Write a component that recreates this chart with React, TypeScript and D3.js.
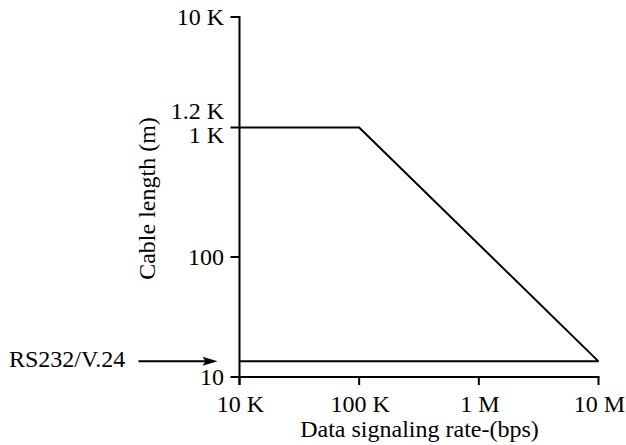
import React from "react";
import * as d3 from "d3";

const xTicks = [1e4, 1e5, 1e6, 1e7];
const xTickLabels = ["10 K", "100 K", "1 M", "10 M"];
const yTicks = [10, 100, 1200, 10000];
const yTickLabels = ["10", "100", "1.2 K", "10 K"];
const rateBps = [1e4, 1e5, 1e7];
const lengthM = [1200, 1200, 13.5];
const rs232Rate = [1e4, 1e7];
const rs232Length = [13.5, 13.5];
const rs232Label = "RS232/V.24";

const W = 626;
const H = 445;
const FONT = "'Liberation Serif', 'Times New Roman', serif";
const FS = 24;

export default function App() {
  const x = d3.scaleLog().domain([1e4, 1e7]).range([239.5, 598.5]);
  const y = d3.scaleLog().domain([10, 10000]).range([377, 17]);
  const line = d3
    .line<number>()
    .x((_, i) => x(rateBps[i]))
    .y((d) => y(d));
  const rsLine = d3
    .line<number>()
    .x((_, i) => x(rs232Rate[i]))
    .y((d) => y(d));

  const x0 = x(1e4);
  const yBase = y(10);
  const yTop = y(10000);
  const rsY = y(rs232Length[0]);

  return (
    <svg
      width={W}
      height={H}
      style={{ position: "absolute", left: 0, top: 0, background: "#fff" }}
      fontFamily={FONT}
    >
      {/* axes */}
      <line x1={x0} x2={x0} y1={yTop - 1} y2={yBase + 8} stroke="#000" strokeWidth={2} />
      <line x1={x0 - 1} x2={x(1e7) + 1} y1={yBase} y2={yBase} stroke="#000" strokeWidth={2} />
      {yTicks.map((t, i) => (
        <g key={"y" + i}>
          <line x1={x0 - 9} x2={x0} y1={y(t)} y2={y(t)} stroke="#000" strokeWidth={2} />
          {t === 1200 ? (
            <>
              <text x={x0 - 15.5} y={y(t) - 8} textAnchor="end" fontSize={FS}>
                {yTickLabels[i]}
              </text>
              <text x={x0 - 15.5} y={y(t) + 16} textAnchor="end" fontSize={FS}>
                1 K
              </text>
            </>
          ) : (
            <text x={x0 - 15.5} y={y(t) + 8} textAnchor="end" fontSize={FS}>
              {yTickLabels[i]}
            </text>
          )}
        </g>
      ))}
      {xTicks.map((t, i) => (
        <g key={"x" + i}>
          <line x1={x(t)} x2={x(t)} y1={yBase} y2={yBase + 8} stroke="#000" strokeWidth={2} />
          <text x={x(t) + 1} y={yBase + 35} textAnchor="middle" fontSize={FS}>
            {xTickLabels[i]}
          </text>
        </g>
      ))}
      {/* data */}
      <path d={line(lengthM) || ""} fill="none" stroke="#000" strokeWidth={2} />
      <path d={rsLine(rs232Length) || ""} fill="none" stroke="#000" strokeWidth={2} />
      {/* annotation */}
      <line x1={x0 - 101} x2={x0 - 30} y1={rsY} y2={rsY} stroke="#000" strokeWidth={2} />
      <polygon
        points={`${x0 - 22},${rsY} ${x0 - 37},${rsY - 4.5} ${x0 - 34},${rsY} ${x0 - 37},${rsY + 4.5}`}
        fill="#000"
      />
      <text x={9} y={rsY + 5.5} fontSize={FS}>
        {rs232Label}
      </text>
      {/* titles */}
      <text x={419.5} y={437} textAnchor="middle" fontSize={FS}>
        Data signaling rate-(bps)
      </text>
      <text
        transform={`translate(155, 198.5) rotate(-90)`}
        textAnchor="middle"
        fontSize={FS}
      >
        Cable length (m)
      </text>
    </svg>
  );
}
